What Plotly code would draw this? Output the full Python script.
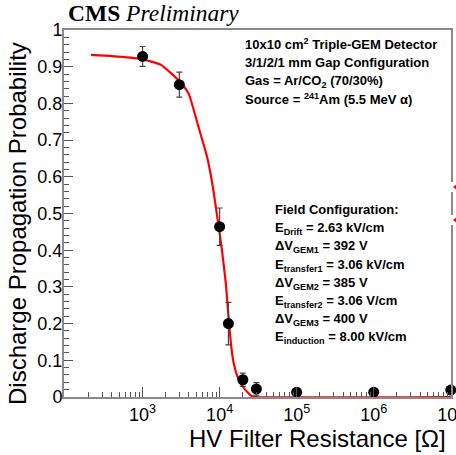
import plotly.graph_objects as go

# ---------------- data ----------------
resistance = [1e3, 3e3, 1e4, 1.3e4, 2e4, 3e4, 1e5, 1e6, 1e7]
probability = [0.928, 0.851, 0.464, 0.200, 0.047, 0.022, 0.013, 0.013, 0.019]
prob_err = [0.027, 0.034, 0.051, 0.058, 0.018, 0.017, 0.006, 0.006, 0.006]

fit_resistance = [214, 398, 955, 1738, 3162, 3981, 5248, 6918, 8128, 9333, 10715,
                  12023, 13032, 14289, 15488, 17783, 21380, 26303, 29512, 1e7]
fit_probability = [0.932, 0.929, 0.921, 0.905, 0.856, 0.826, 0.740, 0.652, 0.575,
                   0.490, 0.400, 0.310, 0.220, 0.130, 0.085, 0.046, 0.020, 0.002,
                   0.0, 0.0]

x_tick_vals = [1e3, 1e4, 1e5, 1e6, 1e7]
x_tick_text = ["10<sup>3</sup>", "10<sup>4</sup>", "10<sup>5</sup>",
               "10<sup>6</sup>", "10<sup>7</sup>"]
y_tick_vals = [0, 0.1, 0.2, 0.3, 0.4, 0.5, 0.6, 0.7, 0.8, 0.9, 1.0]
y_tick_text = ["0", "0.1", "0.2", "0.3", "0.4", "0.5", "0.6", "0.7", "0.8", "0.9", "1"]

info_lines = [
    "10x10 cm<sup>2</sup> Triple-GEM Detector",
    "3/1/2/1 mm Gap Configuration",
    "Gas = Ar/CO<sub>2</sub> (70/30%)",
    "Source = <sup>241</sup>Am (5.5 MeV α)",
]
field_lines = [
    "Field Configuration:",
    "E<sub>Drift</sub> = 2.63 kV/cm",
    "ΔV<sub>GEM1</sub> = 392 V",
    "E<sub>transfer1</sub> = 3.06 kV/cm",
    "ΔV<sub>GEM2</sub> = 385 V",
    "E<sub>transfer2</sub> = 3.06 V/cm",
    "ΔV<sub>GEM3</sub> = 400 V",
    "E<sub>induction</sub> = 8.00 kV/cm",
]

# ---------------- layout geometry ----------------
W, H = 456, 455
L, R, T, B = 64, 5, 30, 58
PW, PH = W - L - R, H - T - B


def px(xp):
    return (xp - L) / PW


def py(yp):
    return (H - B - yp) / PH


minor_x = [m * 10 ** e for e in range(2, 7) for m in range(2, 10)]
minor_y = [round(i * 0.02, 2) for i in range(51) if i % 5 != 0]

fig = go.Figure()
fig.add_trace(go.Scatter(
    x=fit_resistance, y=fit_probability, mode="lines",
    line=dict(color="#ff0000", width=2.2, shape="spline", smoothing=0.4),
    hoverinfo="skip", showlegend=False))
fig.add_trace(go.Scatter(
    x=resistance, y=probability, mode="markers",
    marker=dict(color="black", size=11),
    error_y=dict(type="data", array=prob_err, color="#444444", thickness=1.2, width=3),
    cliponaxis=False, showlegend=False))

annotations = []
annotations.append(dict(
    text="<b>CMS</b> <i>Preliminary</i>", x=px(66), y=py(13), xref="paper", yref="paper",
    xanchor="left", yanchor="middle", showarrow=False,
    font=dict(family="Liberation Serif, Times New Roman, serif", size=23.5, color="black")))
annotations.append(dict(
    text="Discharge Propagation Probability", x=px(17), y=py(224),
    xref="paper", yref="paper", xanchor="center", yanchor="middle", textangle=-90,
    showarrow=False, font=dict(family="Liberation Sans, Arial, sans-serif", size=24, color="black")))
annotations.append(dict(
    text="HV Filter Resistance [Ω]", x=px(448), y=py(438),
    xref="paper", yref="paper", xanchor="right", yanchor="middle",
    showarrow=False, font=dict(family="Liberation Sans, Arial, sans-serif", size=24, color="black")))

for txt, yy in zip(info_lines, [44, 62.5, 81, 99.5]):
    annotations.append(dict(
        text="<b>" + txt + "</b>", x=px(243), y=py(yy), xref="paper", yref="paper",
        xanchor="left", yanchor="middle", showarrow=False,
        font=dict(family="Liberation Sans, Arial, sans-serif", size=13, color="black")))
for txt, yy in zip(field_lines, [209, 228, 247, 265, 283, 301, 319, 337]):
    annotations.append(dict(
        text="<b>" + txt + "</b>", x=px(273), y=py(yy), xref="paper", yref="paper",
        xanchor="left", yanchor="middle", showarrow=False,
        font=dict(family="Liberation Sans, Arial, sans-serif", size=13, color="black")))

# small artefacts at the right edge of the frame (gaps + red markers)
shapes = []
for yc in (187, 220):
    shapes.append(dict(type="rect", xref="paper", yref="paper",
                       x0=px(449), x1=px(453), y0=py(yc + 5), y1=py(yc - 5),
                       fillcolor="white", line=dict(width=0), layer="above"))
    shapes.append(dict(type="path", xref="paper", yref="paper",
                       path=f"M {px(453)} {py(yc)} L {px(457)} {py(yc - 3)} L {px(457)} {py(yc + 3)} Z",
                       fillcolor="#ff0000", line=dict(width=0), layer="above"))

fig.update_layout(
    width=W, height=H,
    margin=dict(l=L, r=R, t=T, b=B, autoexpand=False),
    paper_bgcolor="white", plot_bgcolor="white",
    font=dict(family="Liberation Sans, Arial, sans-serif", color="black"),
    annotations=annotations, shapes=shapes,
    showlegend=False,
)
fig.update_xaxes(
    type="log", range=[1.98, 7.003], tickvals=x_tick_vals, ticktext=x_tick_text,
    ticks="inside", ticklen=10, tickwidth=1, tickcolor="#555555",
    minor=dict(tickvals=minor_x, ticks="inside", ticklen=5, tickcolor="#555555", tickwidth=1),
    showgrid=False, zeroline=False, showline=True, linecolor="#8a8a8a", linewidth=2,
    mirror=True, tickfont=dict(size=18, color="black"), ticklabeloverflow="allow")
fig.update_yaxes(
    range=[0, 1], tickvals=y_tick_vals, ticktext=y_tick_text,
    ticks="inside", ticklen=9, tickwidth=1, tickcolor="#555555",
    minor=dict(tickvals=minor_y, ticks="inside", ticklen=4.5, tickcolor="#555555", tickwidth=1),
    showgrid=False, zeroline=False, showline=True, linecolor="#8a8a8a", linewidth=2,
    mirror=True, tickfont=dict(size=18, color="black"), ticklabelstandoff=-4)

fig.write_html("out.html", config={"displayModeBar": False},
               post_script="document.body.style.margin='0';")
